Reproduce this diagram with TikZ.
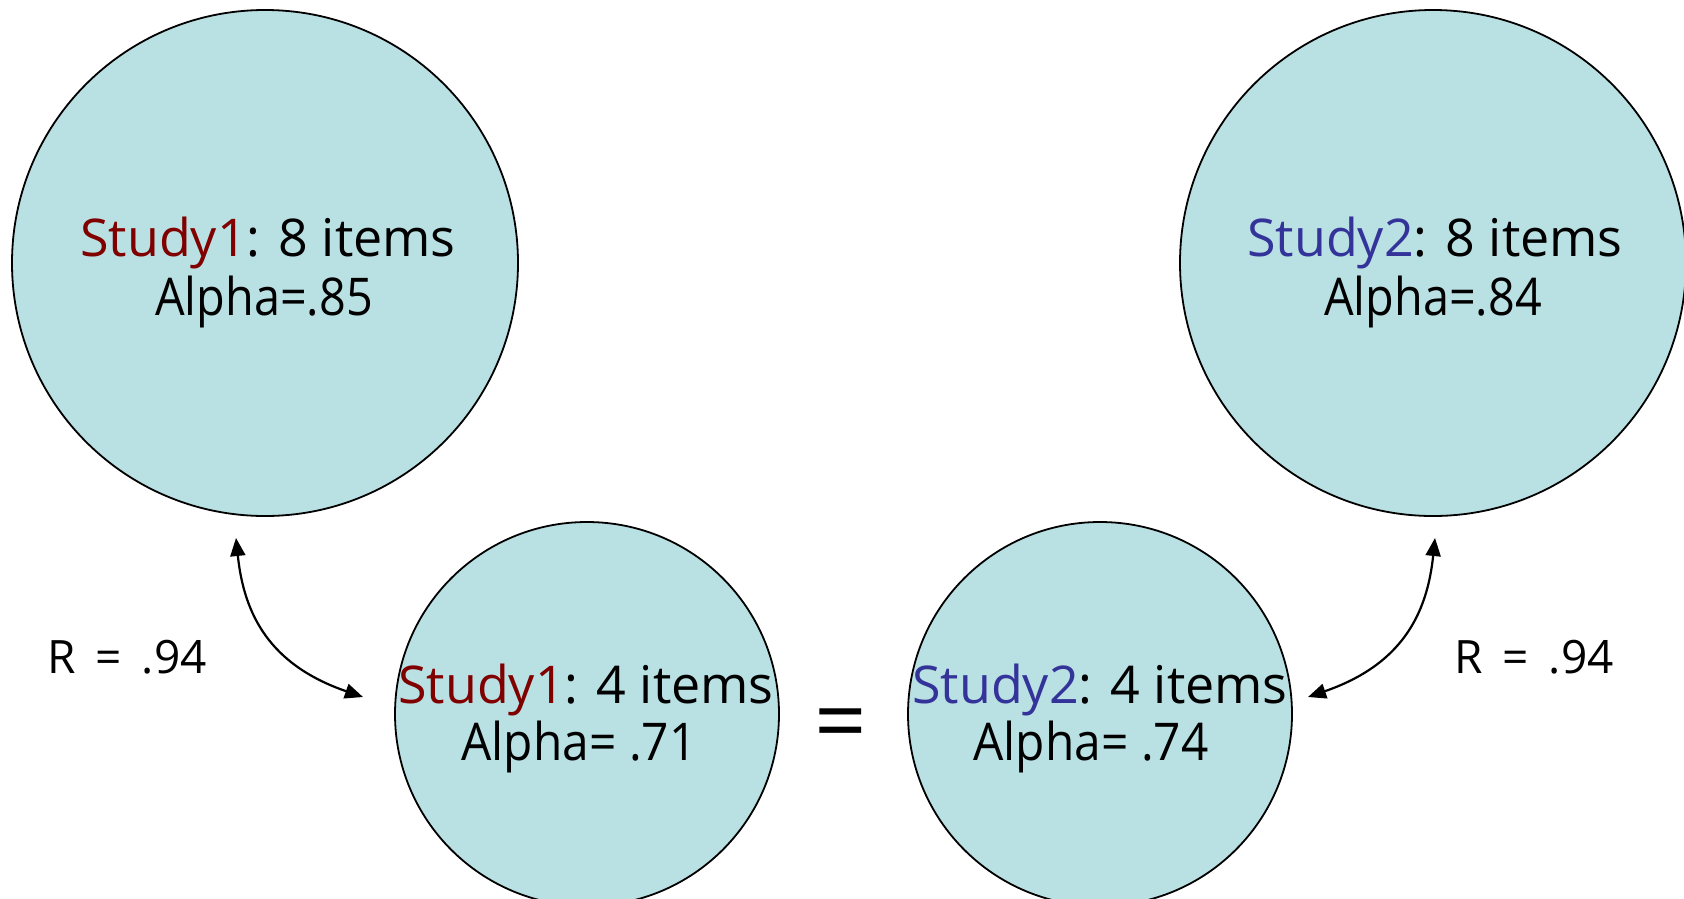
\documentclass[tikz,border=0pt]{standalone}
\usepackage{fontspec}
\setmainfont{Open Sans}
\usetikzlibrary{arrows.meta}
\definecolor{circfill}{RGB}{185,224,227}
\definecolor{studyred}{RGB}{128,0,0}
\definecolor{studyblue}{RGB}{51,51,153}
\newcommand{\narrow}[2]{\scalebox{#1}[1]{#2}}
\begin{document}
\begin{tikzpicture}[x=1pt,y=-1pt,
  bigc/.style={circle, draw=black, line width=1.8pt, fill=circfill, minimum size=506pt, inner sep=0pt},
  smallc/.style={circle, draw=black, line width=1.8pt, fill=circfill, minimum size=384pt, inner sep=0pt},
  txt/.style={anchor=base, inner sep=0pt, font=\fontsize{52}{60}\selectfont},
  rtxt/.style={anchor=base, inner sep=0pt, font=\fontsize{46}{50}\selectfont},
  eqtxt/.style={anchor=base, inner sep=0pt, font=\fontsize{92}{92}\selectfont},
  conn/.style={line width=2.2pt, {Triangle[length=18pt,width=15pt]}-{Triangle[length=18pt,width=15pt]}}]
\clip (0,0) rectangle (1684,898);
% circles
\node[bigc] (big1) at (265,263) {};
\node[bigc] (big2) at (1433,263) {};
\node[smallc] (small1) at (587,714) {};
\node[smallc] (small2) at (1100,714) {};
% texts
\node[txt] (t1a) at (268,256) {\textcolor{studyred}{Study1}: 8 items};
\node[txt] (t1b) at (264,315) {\narrow{0.9}{Alpha=.85}};
\node[txt] (t2a) at (1435,256) {\textcolor{studyblue}{Study2}: 8 items};
\node[txt] (t2b) at (1433,315) {\narrow{0.9}{Alpha=.84}};
\node[txt] (t3a) at (586,703) {\textcolor{studyred}{Study1}: 4 items};
\node[txt] (t3b) at (579,760) {\narrow{0.92}{Alpha= .71}};
\node[txt] (t4a) at (1100,703) {\textcolor{studyblue}{Study2}: 4 items};
\node[txt] (t4b) at (1091,760) {\narrow{0.92}{Alpha= .74}};
\node[rtxt] (rl) at (127,673) {R\hspace{8pt} =\hspace{8pt} .94};
\node[rtxt] (rr) at (1534,673) {R\hspace{8pt} =\hspace{8pt} .94};
\node[eqtxt] (eq) at (841,753) {=};
% connectors
\coordinate (l1) at (236,538);
\coordinate (l2) at (363,697);
\draw[conn] (l1) .. controls (244,615) and (270,665) .. (l2);
\coordinate (r1) at (1435,538);
\coordinate (r2) at (1308,697);
\draw[conn] (r1) .. controls (1427,615) and (1401,665) .. (r2);
\end{tikzpicture}
\end{document}
